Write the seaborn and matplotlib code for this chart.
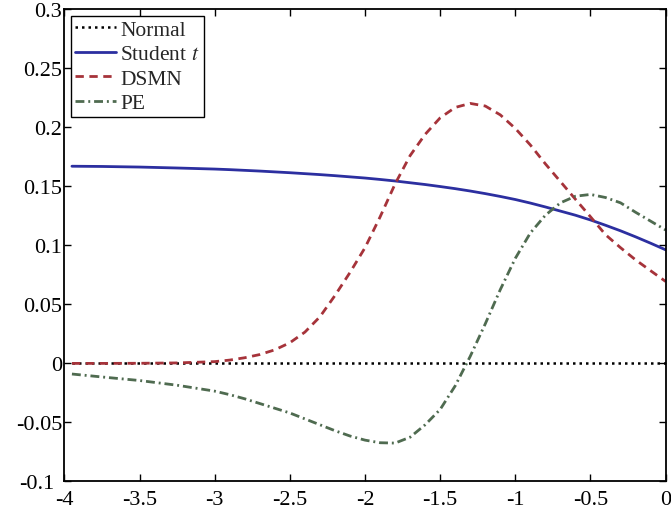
import matplotlib
matplotlib.use("Agg")
import matplotlib.pyplot as plt
import matplotlib.transforms as mtransforms
import seaborn as sns
import pandas as pd

# Sample points along the horizontal axis
x_vals = [-3.95, -3.75, -3.5, -3.25, -3.0, -2.9, -2.8, -2.7, -2.6, -2.5,
          -2.4, -2.3, -2.2, -2.1, -2.0, -1.9, -1.8, -1.7, -1.6, -1.5,
          -1.4, -1.3, -1.2, -1.1, -1.0, -0.9, -0.8, -0.7, -0.6, -0.5,
          -0.4, -0.3, -0.2, -0.1, 0.0]

normal = [0.0] * len(x_vals)
student_t = [0.1670, 0.1668, 0.1663, 0.1655, 0.1646, 0.1641, 0.1635, 0.1629, 0.1622, 0.1615,
             0.1607, 0.1599, 0.1590, 0.1580, 0.1570, 0.1558, 0.1545, 0.1530, 0.1515, 0.1498,
             0.1480, 0.1460, 0.1438, 0.1414, 0.1388, 0.1358, 0.1325, 0.1290, 0.1255, 0.1215,
             0.1170, 0.1123, 0.1072, 0.1018, 0.0962]
dsmn = [0.0, 0.0, 0.0001, 0.0004, 0.0015, 0.0028, 0.0048, 0.0075, 0.0115, 0.0175,
        0.0265, 0.0395, 0.0575, 0.0770, 0.0980, 0.1240, 0.1520, 0.1760, 0.1940, 0.2080,
        0.2168, 0.2202, 0.2180, 0.2105, 0.1990, 0.1850, 0.1690, 0.1540, 0.1390, 0.1242,
        0.1090, 0.0980, 0.0877, 0.0785, 0.0694]
pe = [-0.0090, -0.0115, -0.0145, -0.0185, -0.0235, -0.0265, -0.0300, -0.0340, -0.0380, -0.0420,
      -0.0470, -0.0520, -0.0570, -0.0615, -0.0650, -0.0672, -0.0675, -0.0625, -0.0520, -0.0390,
      -0.0190, 0.0060, 0.0335, 0.0625, 0.0890, 0.1105, 0.1255, 0.1360, 0.1416, 0.1431,
      0.1405, 0.1360, 0.1280, 0.1205, 0.1130]

series_names = ["Normal", "Student $t$", "DSMN", "PE"]
series_values = [normal, student_t, dsmn, pe]
series_colors = ["#000000", "#2c2fa0", "#a6333a", "#4f6b50"]
series_styles = [(0, (1.0, 1.6)), "-", (0, (3.0, 2.0)), (0, (3.2, 1.4, 0.7, 1.4))]

x_ticks = [-4, -3.5, -3, -2.5, -2, -1.5, -1, -0.5, 0]
x_labels = ["-4", "-3.5", "-3", "-2.5", "-2", "-1.5", "-1", "-0.5", "0"]
y_ticks = [-0.1, -0.05, 0, 0.05, 0.1, 0.15, 0.2, 0.25, 0.3]
y_labels = ["-0.1", "-0.05", "0", "0.05", "0.1", "0.15", "0.2", "0.25", "0.3"]

sns.set_theme(style="ticks")
plt.rcParams["font.family"] = ["Liberation Serif", "DejaVu Serif"]
plt.rcParams["mathtext.fontset"] = "stix"
plt.rcParams["axes.unicode_minus"] = False

fig = plt.figure(figsize=(6.71, 5.10), dpi=100)
ax = fig.add_axes([0.096, 0.054, 0.896, 0.926])

for name, vals, col, ls in zip(series_names, series_values, series_colors, series_styles):
    df = pd.DataFrame({"x": x_vals, "y": vals})
    lw = 1.8 if name == "Normal" else 2.0
    sns.lineplot(data=df, x="x", y="y", ax=ax, color=col, linestyle=ls,
                 linewidth=lw, label=name, sort=False)

ax.set_xlim(-4, 0)
ax.set_ylim(-0.1, 0.3)
ax.set_xticks(x_ticks)
ax.set_xticklabels(x_labels)
ax.set_yticks(y_ticks)
ax.set_yticklabels(y_labels)
ax.set_xlabel("")
ax.set_ylabel("")

for side in ["left", "right", "top", "bottom"]:
    ax.spines[side].set_visible(True)
    ax.spines[side].set_color("black")
    ax.spines[side].set_linewidth(1.3)

ax.tick_params(axis="both", which="both", direction="in", length=5, width=1.0,
               top=True, right=True, labelsize=16, colors="black")
ax.tick_params(axis="x", pad=6)
ax.tick_params(axis="y", pad=1.5)

# Nudge the lowest y label left so it clears the first x label
low_label = ax.get_yticklabels()[0]
low_label.set_transform(low_label.get_transform() +
                        mtransforms.ScaledTranslation(-8 / 100, 0, fig.dpi_scale_trans))

leg = ax.legend(loc="upper left", fontsize=15.5, frameon=True, fancybox=False,
                handlelength=1.9, handletextpad=0.2, borderpad=0.2,
                labelspacing=0.2, borderaxespad=0.3)
leg.get_frame().set_edgecolor("black")
leg.get_frame().set_linewidth(1.0)
leg.get_frame().set_alpha(1.0)

fig.savefig("out.png", dpi=100)
